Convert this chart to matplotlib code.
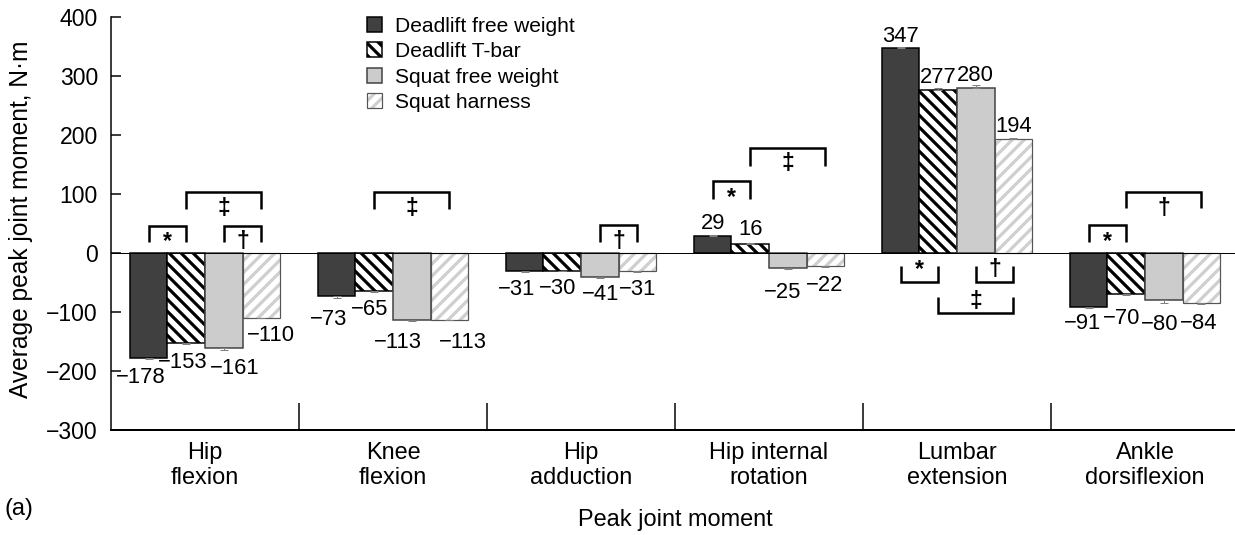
import numpy as np
import matplotlib
matplotlib.use("Agg")
import matplotlib.pyplot as plt

plt.rcParams['font.family'] = ['Liberation Sans', 'DejaVu Sans']
plt.rcParams['hatch.linewidth'] = 3.2

# ---------------- data ----------------
categories = ["Hip\nflexion", "Knee\nflexion", "Hip\nadduction",
              "Hip internal\nrotation", "Lumbar\nextension", "Ankle\ndorsiflexion"]
series_names = ["Deadlift free weight", "Deadlift T-bar", "Squat free weight", "Squat harness"]
deadlift_free = [-178, -73, -31, 29, 347, -91]
deadlift_tbar = [-153, -65, -30, 16, 277, -70]
squat_free = [-161, -113, -41, -25, 280, -80]
squat_harness = [-110, -113, -31, -22, 194, -84]
err_deadlift_free = [2, 4, 1, 1, 2, 2]
err_deadlift_tbar = [1, 1, 1, 1, 3, 2]
err_squat_free = [3, 2, 2, 2, 4, 5]
err_squat_harness = [1, 1, 1, 1, 1, 2]
yticks = [-300, -200, -100, 0, 100, 200, 300, 400]
# significance brackets: (category, first series, last series, symbol)
brackets = [(0, 0, 1, "*"), (0, 2, 3, "\u2020"), (0, 1, 3, "\u2021"),
            (1, 1, 3, "\u2021"),
            (2, 2, 3, "\u2020"),
            (3, 0, 1, "*"), (3, 1, 3, "\u2021"),
            (4, 0, 1, "*"), (4, 2, 3, "\u2020"), (4, 1, 3, "\u2021"),
            (5, 0, 1, "*"), (5, 1, 3, "\u2020")]

# ---------------- styling / placement ----------------
# bracket line level and leg end (axis units)
bracket_levels = [(46, 19), (46, 19), (103, 75),
                  (103, 75),
                  (47, 19),
                  (122, 92), (178, 147),
                  (-49, -22), (-49, -22), (-102, -75),
                  (47, 19), (103, 76)]
# value label nudges (points) per category, per series
label_nudges = [
    [(-8, -19), (-3, -19), (11, -21), (10, -18)],
    [(-8, -23), (-5, -18), (-14, -23), (14, -23)],
    [(-8, -18), (-5, -18), (1, -17), (0, -18)],
    [(0, 12), (0, 14), (-5, -25), (-1, -20)],
    [(0, 12), (0, 12), (0, 12), (0, 12)],
    [(-6, -17), (-5, -24), (-4, -24), (-3, -21)],
]

W, H = 1235, 535
DPI = 72
fig = plt.figure(figsize=(W / DPI, H / DPI), dpi=DPI)
ax = fig.add_axes([111 / W, 1 - 430 / H, 1128 / W, 413 / H])

series = [deadlift_free, deadlift_tbar, squat_free, squat_harness]
errs = [err_deadlift_free, err_deadlift_tbar, err_squat_free, err_squat_harness]
ncat = len(categories)
base = np.arange(ncat)
bw = 0.2

def xpos(i):
    return base + 0.1 + (i + 0.5) * bw

c0 = ax.bar(xpos(0), series[0], bw, color="#404040", edgecolor="black", linewidth=1.5, zorder=2)
c1 = ax.bar(xpos(1), series[1], bw, color="white", edgecolor="black", hatch="\\\\", linewidth=1.5, zorder=2)
c2 = ax.bar(xpos(2), series[2], bw, color="#cccccc", edgecolor="#404040", linewidth=1.5, zorder=2)
c3 = ax.bar(xpos(3), series[3], bw, color="white", edgecolor="#cfcfcf", hatch="//", linewidth=0, zorder=2)
c3o = ax.bar(xpos(3), series[3], bw, fill=False, edgecolor="#555555", linewidth=1.2, zorder=2.1)

for i in range(4):
    v = np.array(series[i], dtype=float)
    e = np.array(errs[i], dtype=float)
    lower = np.where(v < 0, e, 0)
    upper = np.where(v >= 0, e, 0)
    ax.errorbar(xpos(i), v, yerr=[lower, upper], fmt="none", ecolor="#808080",
                elinewidth=1, capsize=4, capthick=1, zorder=3)

# value labels
for i in range(4):
    xs = xpos(i)
    for j in range(ncat):
        v = series[i][j]
        dx, dy = label_nudges[j][i]
        ax.annotate(f"{v}".replace("-", "\u2212"), xy=(xs[j], v), xytext=(dx, dy),
                    textcoords="offset points", ha="center", va="center", fontsize=22)

# brackets
for (cat, a, b, sym), (yl, ye) in zip(brackets, bracket_levels):
    xa = xpos(a)[cat]
    xb = xpos(b)[cat]
    ax.plot([xa, xa, xb, xb], [ye, yl, yl, ye], color="black", lw=2.5,
            solid_joinstyle="miter", solid_capstyle="butt", zorder=4)
    off = -16 if yl > 0 else 12
    ax.annotate(sym, xy=((xa + xb) / 2, yl), xytext=(0, off), textcoords="offset points",
                ha="center", va="center", fontsize=23, fontweight="bold", zorder=4)

ax.axhline(0, color="black", lw=1, zorder=2.5)
ax.vlines(np.arange(1, ncat), -300, -255, color="black", lw=1.5)

ax.set_xlim(0, ncat)
ax.set_ylim(-300, 400)
ax.set_yticks(yticks)
ax.set_xticks(base + 0.5)
ax.set_xticklabels(categories, fontsize=23.5, linespacing=1.2)
ax.tick_params(axis="x", length=0, pad=12)
ax.tick_params(axis="y", direction="in", length=10, width=1.5, pad=13, labelsize=23)
for s in ["top", "right"]:
    ax.spines[s].set_visible(False)
ax.spines["left"].set_linewidth(1.5)
ax.spines["bottom"].set_linewidth(2)

leg = ax.legend([c0, c1, c2, (c3, c3o)], series_names, loc="upper left",
                bbox_to_anchor=(367 / W, 1 - 17 / H), bbox_transform=fig.transFigure,
                frameon=False, fontsize=21, handlelength=0.72, handleheight=0.72,
                handletextpad=0.6, labelspacing=0.3, borderpad=0, borderaxespad=0)

fig.text(21 / W, 1 - 219 / H, "Average peak joint moment, N\u00b7m", rotation=90,
         ha="center", va="center", fontsize=24.5)
fig.text(675 / W, 1 - 520 / H, "Peak joint moment", ha="center", va="center", fontsize=23.5)
fig.text(19 / W, 1 - 509 / H, "(a)", ha="center", va="center", fontsize=23.5)

fig.savefig("out.png", dpi=DPI)
